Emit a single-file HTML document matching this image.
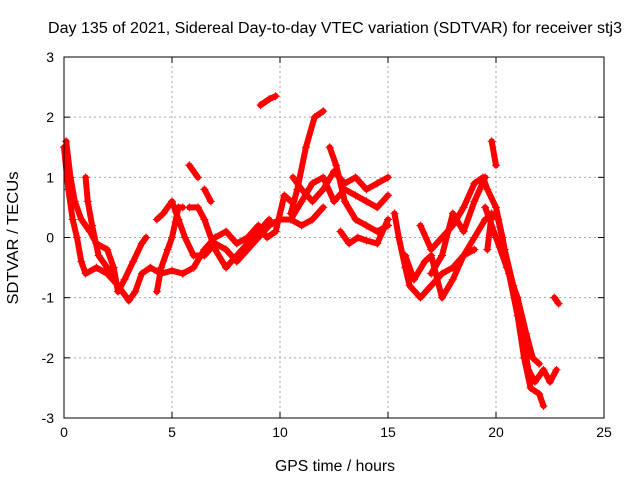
<!DOCTYPE html>
<html><head><meta charset="utf-8"><style>
body{margin:0;background:#fff;}
svg{display:block;font-family:"Liberation Sans",sans-serif;}
</style></head><body>
<svg id="chart" width="640" height="480">
<text x="335" y="33" font-size="15.5" text-anchor="middle" textLength="574" lengthAdjust="spacingAndGlyphs">Day 135 of 2021, Sidereal Day-to-day VTEC variation (SDTVAR) for receiver stj3</text>
<text x="335" y="471" font-size="15.5" text-anchor="middle" textLength="120" lengthAdjust="spacingAndGlyphs">GPS time / hours</text>
<text x="18" y="238" font-size="15.5" text-anchor="middle" textLength="133" lengthAdjust="spacingAndGlyphs" transform="rotate(-90 18 238)">SDTVAR / TECUs</text>
<g id="grid"></g><g id="axes"></g><g id="marks"></g>
<rect x="64" y="57" width="540" height="361" fill="none" stroke="#000"/>
</svg>
<script>
const xTicks=[0,5,10,15,20,25];
const yTicks=[-3,-2,-1,0,1,2,3];
const tracks=[
[[0,1.5],[0.2,0.8],[0.4,0.3],[0.6,0],[0.8,-0.4],[1,-0.6],[1.5,-0.5],[2,-0.6],[2.5,-0.8],[3,-1.05],[3.3,-0.9],[3.6,-0.6],[4,-0.5],[4.5,-0.6],[5,-0.55],[5.5,-0.6]],
[[0.1,1.6],[0.3,1.0],[0.5,0.6],[0.8,0.3],[1.2,0.1],[1.5,-0.1],[2,-0.2],[2.3,-0.5],[2.5,-0.9],[2.8,-0.7],[3.2,-0.4],[3.6,-0.1],[3.8,0]],
[[1,1.0],[1.1,0.6],[1.3,0.2],[1.6,-0.3],[2,-0.5],[2.3,-0.6]],
[[4.3,-0.9],[4.5,-0.5],[4.8,-0.2],[5.0,0],[5.3,0.5],[5.5,0.5]],
[[4.3,0.3],[4.6,0.4],[5,0.6],[5.3,0.3],[5.6,0],[6,-0.3],[6.5,-0.3],[7,-0.1],[7.5,-0.2],[8,-0.4],[8.5,-0.2],[9,0],[9.5,0.2],[10,0.3],[10.5,0.3],[11,0.2],[11.5,0.3],[12,0.5]],
[[5.5,-0.6],[6,-0.5],[6.5,-0.2],[7,0],[7.5,0.1],[8,-0.1],[8.5,0],[9,0.2],[9.4,0],[9.8,0.1],[10.2,0.7],[10.5,0.6]],
[[5.8,0.5],[6.2,0.5],[6.5,0.3],[7,-0.2],[7.5,-0.5],[8,-0.3],[8.5,-0.1],[9,0.1],[9.5,0.3]],
[[5.8,1.2],[6.2,1.0]],
[[6.5,0.8],[6.8,0.6]],
[[9.1,2.2],[9.5,2.3],[9.8,2.35]],
[[10.5,0.4],[10.8,0.8],[11.2,1.5],[11.6,2.0],[12,2.1]],
[[10.5,0.3],[11,0.6],[11.5,0.9],[12,1.0],[12.5,0.6],[13,0.8],[13.5,0.7],[14,0.6],[14.5,0.5],[15,0.7]],
[[10.6,1.0],[11,0.8],[11.5,0.6],[12,0.8],[12.5,1.1],[13,0.9],[13.5,1.0],[14,0.8],[14.5,0.9],[15,1.0]],
[[12.3,1.5],[12.6,1.2],[13,0.6],[13.5,0.3],[14,0.2],[14.5,0.1],[15,0.2]],
[[12.8,0.1],[13.2,-0.1],[13.6,0],[14,-0.05],[14.5,-0.1],[15,0.3]],
[[15.3,0.4],[15.5,0],[15.8,-0.5],[16,-0.8],[16.5,-1],[17,-0.8],[17.5,-0.6],[18,-0.5],[18.5,-0.3],[19,-0.2]],
[[15.8,-0.3],[16.2,-0.7],[16.7,-0.4],[17,-0.3],[17.5,-1.0],[18,-0.7],[18.5,-0.3],[19,0],[19.5,0.3]],
[[16.5,0.2],[17,-0.2],[17.5,0],[18,0.2],[18.5,0.5],[19,0.9],[19.4,1.0],[19.6,0.8],[20,0.5],[20.3,0],[20.6,-0.6],[21,-1.3],[21.3,-2],[21.6,-2.5],[22,-2.6],[22.2,-2.8]],
[[19.6,-0.2],[19.8,0.4],[20.1,0.3],[20.4,-0.2],[20.8,-0.8],[21.2,-1.5],[21.5,-2.2],[21.8,-2.4],[22.2,-2.2],[22.5,-2.4],[22.8,-2.2]],
[[19.5,0.5],[20,0],[20.5,-0.5],[21,-1.0],[21.4,-1.6],[21.7,-2.0],[22,-2.1]],
[[19.8,1.6],[20,1.2]],
[[22.7,-1.0],[22.9,-1.1]],
[[17,-0.6],[17.5,-0.3],[18,0.4],[18.5,0.1],[19,0.6],[19.5,1.0]]
];
const NS='http://www.w3.org/2000/svg';
const X0=64,X1=604,Y0=418,Y1=57;
const xs=v=>X0+(v-0)/(25-0)*(X1-X0);
const ys=v=>Y0-(v+3)/6*(Y0-Y1);
function mk(t,a,p){const e=document.createElementNS(NS,t);for(const k in a)e.setAttribute(k,a[k]);p.appendChild(e);return e;}
const grid=document.getElementById('grid'),axes=document.getElementById('axes'),marks=document.getElementById('marks');
xTicks.forEach(t=>{const x=xs(t);
 if(t>0&&t<25){const g=mk('line',{x1:x,x2:x,y1:Y0,y2:Y1,stroke:'#aaa','stroke-dasharray':'2,3'},grid);}
 const l=mk('text',{x:x,y:Y0+19,'font-size':14,'text-anchor':'middle'},axes);l.textContent=t;
 
 
 mk('line',{x1:x,x2:x,y1:Y0,y2:Y0-6,stroke:'#000'},axes);mk('line',{x1:x,x2:x,y1:Y1,y2:Y1+6,stroke:'#000'},axes);});
yTicks.forEach(t=>{const y=ys(t);
 if(t>-3&&t<3){const g=mk('line',{x1:X0,x2:X1,y1:y,y2:y,stroke:'#aaa','stroke-dasharray':'2,3'},grid);}
 const l=mk('text',{x:X0-10,y:y+5,'font-size':14,'text-anchor':'end'},axes);l.textContent=t;
 
 
 mk('line',{x1:X0,x2:X0+6,y1:y,y2:y,stroke:'#000'},axes);mk('line',{x1:X1,x2:X1-6,y1:y,y2:y,stroke:'#000'},axes);});
tracks.forEach(tr=>{
 const pl=mk('polyline',{points:tr.map(p=>xs(p[0])+','+ys(p[1])).join(' '),fill:'none',stroke:'#f00','stroke-width':6,'stroke-linejoin':'round','stroke-linecap':'round'},marks);
 
 
 tr.forEach(p=>{const x=xs(p[0]),y=ys(p[1]);
  const m=mk('path',{d:`M${x-4},${y}H${x+4}M${x},${y-4}V${y+4}`,stroke:'#f00','stroke-width':1},marks);
  
  });
});
</script>
</body></html>
